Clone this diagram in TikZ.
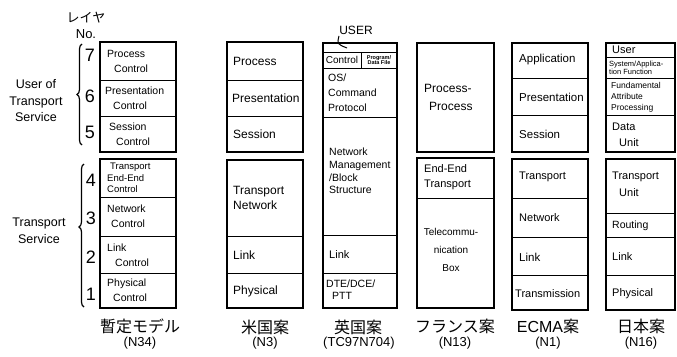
\documentclass[tikz,border=0pt]{standalone}
\usepackage{fontspec}
\setmainfont{Liberation Sans}
\newfontfamily\jp{Noto Sans CJK JP}
\usetikzlibrary{decorations.pathreplacing}
\newcommand\mkcell[5]{\node[cell, minimum width={(#4-#2)*1pt}, minimum height={(#5-#3)*1pt}] (#1) at (#2,#3) {};}
\begin{document}
\begin{tikzpicture}[x=1pt,y=-1pt,
  cell/.style={draw, line width=0.9pt, anchor=north west, inner sep=0pt, outer sep=0pt},
  grp/.style={draw, line width=1.7pt},
  txt/.style={anchor=west, inner sep=0pt, align=left},
  ctxt/.style={anchor=center, inner sep=0pt, align=center},
  fs/.style 2 args={font=\fontsize{#1}{#2}\selectfont},
  jpl/.style={anchor=center, inner sep=0pt, font=\jp\fontsize{16}{16}\selectfont},
  code/.style={anchor=center, inner sep=0pt, font=\fontsize{13}{13}\selectfont},
  num/.style={anchor=center, inner sep=0pt, font=\fontsize{18}{18}\selectfont},
  brc/.style={draw, line width=1.2pt, decorate, decoration={brace, amplitude=5pt}}]
\useasboundingbox (0,0) rectangle (677,356);

% ---------- Column 1 : provisional model ----------
\mkcell{a7}{100}{42}{176}{80}
\mkcell{a6}{100}{80}{176}{116}
\mkcell{a5}{100}{116}{176}{152}
\mkcell{a4}{100}{159}{176}{197}
\mkcell{a3}{100}{197}{176}{236}
\mkcell{a2}{100}{236}{176}{273}
\mkcell{a1}{100}{273}{176}{308}
\draw[grp] (a7.north west) rectangle (a5.south east);
\draw[grp] (a4.north west) rectangle (a1.south east);
\node[txt, fs={10.5}{15}] (ta7) at (107,61) {Process\\\hspace{7pt}Control};
\node[txt, fs={10.5}{15}] (ta6) at (105,98) {Presentation\\\hspace{8pt}Control};
\node[txt, fs={10.5}{15}] (ta5) at (109,134) {Session\\\hspace{7pt}Control};
\node[txt, fs={9.5}{11.5}] (ta4) at (107,178) {\hspace{3pt}Transport\\End-End\\Control};
\node[txt, fs={10.5}{15}] (ta3) at (107,216) {Network\\\hspace{4pt}Control};
\node[txt, fs={10.5}{15}] (ta2) at (107,255) {Link\\\hspace{8pt}Control};
\node[txt, fs={10.5}{15}] (ta1) at (107,290) {Physical\\\hspace{6pt}Control};
\node[num] (n7) at (90,55) {7};
\node[num] (n6) at (90,96) {6};
\node[num] (n5) at (90,132) {5};
\node[num] (n4) at (91,180) {4};
\node[num] (n3) at (91,218) {3};
\node[num] (n2) at (91,257) {2};
\node[num] (n1) at (91,294) {1};
\coordinate (b1s) at (82,145);
\coordinate (b1e) at (82,44);
\coordinate (b2s) at (84,307);
\coordinate (b2e) at (84,164);
\draw[brc] (b1s) -- (b1e);
\draw[brc, decoration={brace, amplitude=5pt, aspect=0.56}] (b2s) -- (b2e);
\node[ctxt, font=\jp\fontsize{13}{13}\selectfont] (layer) at (86,18) {レイヤ};
\node[ctxt, fs={13}{13}] (no) at (86,34) {No.};
\node[ctxt, fs={12.5}{16.5}] (uts) at (36,101) {User of\\Transport\\Service};
\node[ctxt, fs={12.5}{17}] (ts) at (39,231) {Transport\\Service};

% ---------- Column 2 : US ----------
\mkcell{b7}{227}{42}{303}{80}
\mkcell{b6}{227}{80}{303}{116}
\mkcell{b5}{227}{116}{303}{152}
\mkcell{b4}{227}{160}{303}{236}
\mkcell{b2}{227}{236}{303}{273}
\mkcell{b1}{227}{273}{303}{308}
\draw[grp] (b7.north west) rectangle (b5.south east);
\draw[grp] (b4.north west) rectangle (b1.south east);
\node[txt, fs={12}{15}] (tb7) at (233,61) {Process};
\node[txt, fs={12}{15}] (tb6) at (232,98) {Presentation};
\node[txt, fs={12}{15}] (tb5) at (233,134) {Session};
\node[txt, fs={12}{15}] (tb4) at (233,198) {Transport\\Network};
\node[txt, fs={12}{15}] (tb2) at (233,255) {Link};
\node[txt, fs={12}{15}] (tb1) at (233,291) {Physical};

% ---------- Column 3 : UK ----------
\mkcell{c0}{323}{43}{397}{52}
\mkcell{c1a}{323}{52}{361}{68}
\mkcell{c1b}{361}{52}{397}{68}
\mkcell{c2}{323}{68}{397}{117}
\mkcell{c3}{323}{117}{397}{235}
\mkcell{c4}{323}{235}{397}{273}
\mkcell{c5}{323}{273}{397}{308}
\draw[grp] (c0.north west) rectangle (c5.south east);
\node[ctxt, fs={10}{10}] (tc1a) at (c1a) {Control};
\node[ctxt, font=\bfseries\fontsize{5.5}{5.8}\selectfont] (tc1b) at (c1b) {Program/\\Data File};
\node[txt, fs={10.5}{15}] (tc2) at (328,93) {OS/\\Command\\Protocol};
\node[txt, fs={10.5}{12.8}] (tc3) at (329,171) {Network\\Management\\/Block\\Structure};
\node[txt, fs={11}{15}] (tc4) at (329,255) {Link};
\node[txt, fs={10.5}{12}] (tc5) at (326,290) {DTE/DCE/\\\hspace{6pt}PTT};
\node[ctxt, fs={12}{12}] (user) at (356,30) {USER};
\draw[line width=1pt] (339,36) .. controls (337,44) .. (347,48);

% ---------- Column 4 : France ----------
\mkcell{d1}{417}{43}{494}{152}
\mkcell{d2}{417}{158}{494}{198}
\mkcell{d3}{417}{198}{494}{308}
\draw[grp] (d1.north west) rectangle (d1.south east);
\draw[grp] (d2.north west) rectangle (d3.south east);
\node[txt, fs={12}{18}] (td1) at (424,97) {Process-\\\hspace{5pt}Process};
\node[txt, fs={11}{15}] (td2) at (424,177) {End-End\\Transport};
\node[ctxt, fs={10}{18}] (td3) at (451,250) {Telecommu-\\nication\\Box};

% ---------- Column 5 : ECMA ----------
\mkcell{e7}{512}{43}{588}{78}
\mkcell{e6}{512}{78}{588}{115}
\mkcell{e5}{512}{115}{588}{152}
\mkcell{e4}{512}{159}{588}{198}
\mkcell{e3}{512}{198}{588}{237}
\mkcell{e2}{512}{237}{588}{275}
\mkcell{e1}{512}{275}{588}{310}
\draw[grp] (e7.north west) rectangle (e5.south east);
\draw[grp] (e4.north west) rectangle (e1.south east);
\node[txt, fs={11.5}{15}] (te7) at (519,60) {Application};
\node[txt, fs={11.5}{15}] (te6) at (519,97) {Presentation};
\node[txt, fs={11.5}{15}] (te5) at (519,134) {Session};
\node[txt, fs={11}{15}] (te4) at (519,177) {Transport};
\node[txt, fs={11}{15}] (te3) at (519,218) {Network};
\node[txt, fs={11.5}{15}] (te2) at (519,257) {Link};
\node[txt, fs={11}{15}] (te1) at (515,294) {Transmission};

% ---------- Column 6 : Japan ----------
\mkcell{f1}{606}{43}{675}{57}
\mkcell{f2}{606}{57}{675}{78}
\mkcell{f3}{606}{78}{675}{115}
\mkcell{f4}{606}{115}{675}{152}
\mkcell{f5}{606}{159}{675}{213}
\mkcell{f6}{606}{213}{675}{237}
\mkcell{f7}{606}{237}{675}{275}
\mkcell{f8}{606}{275}{675}{310}
\draw[grp] (f1.north west) rectangle (f4.south east);
\draw[grp] (f5.north west) rectangle (f8.south east);
\node[txt, fs={11}{15}] (tf1) at (612,50) {User};
\node[txt, fs={7.5}{8}] (tf2) at (609,67.5) {System/Applica-\\tion Function};
\node[txt, fs={8.5}{11}] (tf3) at (611,97) {Fundamental\\Attribute\\Processing};
\node[txt, fs={11}{16}] (tf4) at (612,135) {Data\\\hspace{7pt}Unit};
\node[txt, fs={11}{17}] (tf5) at (612,184) {Transport\\\hspace{7pt}Unit};
\node[txt, fs={10.5}{15}] (tf6) at (612,226) {Routing};
\node[txt, fs={11}{15}] (tf7) at (612,257) {Link};
\node[txt, fs={11}{15}] (tf8) at (612,294) {Physical};

% ---------- Captions ----------
\node[jpl] (cap1) at (140,326) {暫定モデル};
\node[code] (code1) at (140,343) {(N34)};
\node[jpl] (cap2) at (265,327) {米国案};
\node[code] (code2) at (265,343) {(N3)};
\node[jpl] (cap3) at (358,327) {英国案};
\node[code] (code3) at (359,343) {(TC97N704)};
\node[jpl] (cap4) at (455,326) {フランス案};
\node[code] (code4) at (455,343) {(N13)};
\node[jpl] (cap5) at (548,326) {{\fontspec{Liberation Sans}ECMA}案};
\node[code] (code5) at (548,343) {(N1)};
\node[jpl] (cap6) at (641,326) {日本案};
\node[code] (code6) at (641,343) {(N16)};
\end{tikzpicture}
\end{document}
